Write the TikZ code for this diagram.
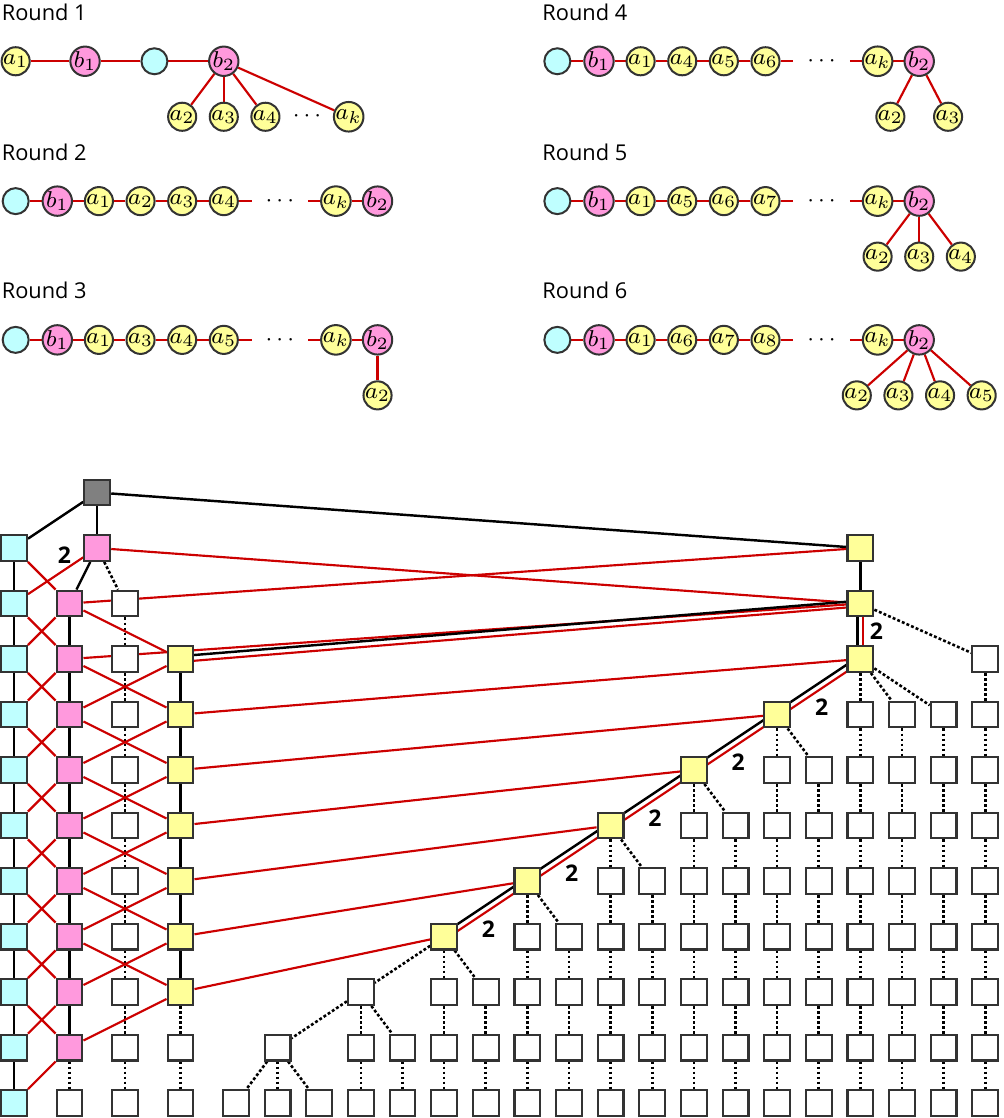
\documentclass[tikz,border=0pt]{standalone}
\usepackage{fontspec}
\setmainfont{Open Sans}
\usetikzlibrary{calc,backgrounds}

\definecolor{cyanfill}{RGB}{191,255,255}
\definecolor{pinkfill}{RGB}{255,153,221}
\definecolor{yelfill}{RGB}{255,255,153}
\definecolor{edgered}{RGB}{204,0,0}
\definecolor{rimgray}{RGB}{51,51,51}

% black edge and red edge side by side
\newcommand{\dbledge}[2]{%
  \draw[bl] ($(#1)!1pt!90:(#2)$) -- ($(#2)!1pt!-90:(#1)$);
  \draw[rl] ($(#1)!1pt!-90:(#2)$) -- ($(#2)!1pt!90:(#1)$);}

\begin{document}
\begin{tikzpicture}[x=0.68cm, y=0.68cm,
    vtx/.style={circle, draw=rimgray, line width=0.7pt, minimum size=9.06pt, inner sep=0pt,
                font=\fontsize{8}{9}\selectfont},
    av/.style={vtx, fill=yelfill},
    bv/.style={vtx, fill=pinkfill},
    cv/.style={vtx, fill=cyanfill},
    sq/.style={rectangle, draw=rimgray, line width=0.75pt, minimum size=9pt, inner sep=0pt, fill=white},
    csq/.style={sq, fill=cyanfill},
    psq/.style={sq, fill=pinkfill},
    ysq/.style={sq, fill=yelfill},
    gsq/.style={sq, fill=gray},
    rl/.style={draw=edgered, line width=0.75pt},
    bl/.style={draw=black, line width=0.85pt},
    dl/.style={draw=black, line width=0.9pt, dash pattern=on 1pt off 0.75pt},
    dts/.style={font=\fontsize{8.5}{9}\selectfont},
    ttl/.style={anchor=base west, inner sep=0pt, font=\fontsize{7.6}{8}\selectfont},
    mult/.style={inner sep=0pt, font=\fontsize{8}{9}\selectfont\bfseries}]
  \useasboundingbox (-0.2523,-10.27) rectangle (17.82,9.874);

  % ---- Round 1 ----
  \node[ttl] (t1) at (-0.23,9.51) {Round 1};
  \node[av] (A1a1) at (0.03,8.77) {$a_1$};
  \node[bv] (A1b1) at (1.28,8.77) {$b_1$};
  \node[cv] (A1c)  at (2.53,8.77) {};
  \node[bv] (A1b2) at (3.78,8.77) {$b_2$};
  \foreach \n/\x in {2/3.03, 3/3.78, 4/4.53, k/6.03}
    \node[av] (A1a\n) at (\x,7.77) {$a_\n$};
  \node[dts] (A1d) at (5.28,7.77) {$\cdots$};

  % ---- Round 2 ----
  \node[ttl] (t2) at (-0.23,6.99) {Round 2};
  \node[cv] (A2c)  at (0.03,6.25) {};
  \node[bv] (A2b1) at (0.78,6.25) {$b_1$};
  \foreach \n/\x in {1/1.53, 2/2.28, 3/3.03, 4/3.78, k/5.80}
    \node[av] (A2a\n) at (\x,6.25) {$a_\n$};
  \node[bv] (A2b2) at (6.55,6.25) {$b_2$};
  \coordinate (A2s) at (4.28,6.25);
  \node[dts] (A2d) at (4.79,6.25) {$\cdots$};
  \coordinate (A2e) at (5.30,6.25);

  % ---- Round 3 ----
  \node[ttl] (t3) at (-0.23,4.49) {Round 3};
  \node[cv] (A3c)  at (0.03,3.75) {};
  \node[bv] (A3b1) at (0.78,3.75) {$b_1$};
  \foreach \n/\x in {1/1.53, 3/2.28, 4/3.03, 5/3.78, k/5.80}
    \node[av] (A3a\n) at (\x,3.75) {$a_\n$};
  \node[bv] (A3b2) at (6.55,3.75) {$b_2$};
  \coordinate (A3s) at (4.28,3.75);
  \node[dts] (A3d) at (4.79,3.75) {$\cdots$};
  \coordinate (A3e) at (5.30,3.75);
  \node[av] (A3a2) at (6.55,2.75) {$a_2$};

  % ---- Round 4 ----
  \node[ttl] (t4) at (9.51,9.51) {Round 4};
  \node[cv] (A4c)  at (9.79,8.77) {};
  \node[bv] (A4b1) at (10.54,8.77) {$b_1$};
  \foreach \n/\x in {1/11.29, 4/12.04, 5/12.79, 6/13.54, k/15.56}
    \node[av] (A4a\n) at (\x,8.77) {$a_\n$};
  \node[bv] (A4b2) at (16.31,8.77) {$b_2$};
  \coordinate (A4s) at (14.04,8.77);
  \node[dts] (A4d) at (14.55,8.77) {$\cdots$};
  \coordinate (A4e) at (15.06,8.77);
  \foreach \n/\x in {2/15.79, 3/16.83}
    \node[av] (A4a\n) at (\x,7.77) {$a_\n$};

  % ---- Round 5 ----
  \node[ttl] (t5) at (9.51,6.99) {Round 5};
  \node[cv] (A5c)  at (9.79,6.25) {};
  \node[bv] (A5b1) at (10.54,6.25) {$b_1$};
  \foreach \n/\x in {1/11.29, 5/12.04, 6/12.79, 7/13.54, k/15.56}
    \node[av] (A5a\n) at (\x,6.25) {$a_\n$};
  \node[bv] (A5b2) at (16.31,6.25) {$b_2$};
  \coordinate (A5s) at (14.04,6.25);
  \node[dts] (A5d) at (14.55,6.25) {$\cdots$};
  \coordinate (A5e) at (15.06,6.25);
  \foreach \n/\x in {2/15.56, 3/16.31, 4/17.06}
    \node[av] (A5a\n) at (\x,5.25) {$a_\n$};

  % ---- Round 6 ----
  \node[ttl] (t6) at (9.51,4.49) {Round 6};
  \node[cv] (A6c)  at (9.79,3.75) {};
  \node[bv] (A6b1) at (10.54,3.75) {$b_1$};
  \foreach \n/\x in {1/11.29, 6/12.04, 7/12.79, 8/13.54, k/15.56}
    \node[av] (A6a\n) at (\x,3.75) {$a_\n$};
  \node[bv] (A6b2) at (16.31,3.75) {$b_2$};
  \coordinate (A6s) at (14.04,3.75);
  \node[dts] (A6d) at (14.55,3.75) {$\cdots$};
  \coordinate (A6e) at (15.06,3.75);
  \foreach \n/\x in {2/15.185, 3/15.935, 4/16.685, 5/17.435}
    \node[av] (A6a\n) at (\x,2.75) {$a_\n$};

  % ---- grid: left columns ----
  \node[gsq] (g) at (1.5,1) {};
  \node[psq] (p0) at (1.5,0) {};
  \foreach \i in {0,...,10}
    \node[csq] (c\i) at (0,-\i) {};
  \foreach \i in {1,...,9}
    \node[psq] (p\i) at (1,-\i) {};
  \node[sq] (p10) at (1,-10) {};
  \foreach \i in {1,...,10}
    \node[sq] (w\i) at (2,-\i) {};
  \foreach \i in {2,...,8}
    \node[ysq] (l\i) at (3,-\i) {};
  \foreach \i in {9,10}
    \node[sq] (l\i) at (3,-\i) {};

  % ---- grid: right part ----
  \node[ysq] (y0) at (15.25,0) {};
  \node[ysq] (y1) at (15.25,-1) {};
  \foreach \k in {2,...,7}
    \node[ysq] (y\k) at ({18.25-1.5*\k},-\k) {};
  \foreach \j/\s in {18/2, 15/3, 16/3, 17/3, 13/4, 14/4, 11/5, 12/5, 9/6, 10/6,
                     7/7, 8/7, 5/8, 6/8, 3/8, 4/9, 1/9, 0/10, 2/10}
    \foreach \i in {\s,...,10}
      \node[sq] (r\j-\i) at ({4+0.75*\j},-\i) {};

  % ---- multiplicities ----
  \node[mult] (m0) at (0.91,-0.13) {2};
  \node[mult] (m1) at (15.54,-1.49) {2};
  \foreach \k in {2,...,6}
    \node[mult] (m\k) at ({17.55-1.5*\k},{-\k-0.865}) {2};

  \begin{scope}[on background layer]
    % rounds
    \foreach \u/\v in {a1/b1, b1/c, c/b2, b2/a2, b2/a3, b2/a4, b2/ak}
      \draw[rl] (A1\u) -- (A1\v);
    \foreach \u/\v in {c/b1, b1/a1, a1/a2, a2/a3, a3/a4, a4/s, e/ak, ak/b2}
      \draw[rl] (A2\u) -- (A2\v);
    \foreach \u/\v in {c/b1, b1/a1, a1/a3, a3/a4, a4/a5, a5/s, e/ak, ak/b2, b2/a2}
      \draw[rl] (A3\u) -- (A3\v);
    \foreach \u/\v in {c/b1, b1/a1, a1/a4, a4/a5, a5/a6, a6/s, e/ak, ak/b2, b2/a2, b2/a3}
      \draw[rl] (A4\u) -- (A4\v);
    \foreach \u/\v in {c/b1, b1/a1, a1/a5, a5/a6, a6/a7, a7/s, e/ak, ak/b2, b2/a2, b2/a3, b2/a4}
      \draw[rl] (A5\u) -- (A5\v);
    \foreach \u/\v in {c/b1, b1/a1, a1/a6, a6/a7, a7/a8, a8/s, e/ak, ak/b2, b2/a2, b2/a3, b2/a4, b2/a5}
      \draw[rl] (A6\u) -- (A6\v);

    % tree edges, left
    \draw[bl] (g) -- (c0);
    \draw[bl] (g) -- (p0);
    \draw[bl] (g) -- (y0);
    \draw[bl] (p0) -- (p1);
    \draw[dl] (p0) -- (w1);
    \foreach \i [evaluate=\i as \n using int(\i+1)] in {0,...,9}
      \draw[bl] (c\i) -- (c\n);
    \foreach \i [evaluate=\i as \n using int(\i+1)] in {1,...,8}
      \draw[bl] (p\i) -- (p\n);
    \draw[dl] (p9) -- (p10);
    \foreach \i [evaluate=\i as \n using int(\i+1)] in {1,...,9}
      \draw[dl] (w\i) -- (w\n);
    \foreach \i [evaluate=\i as \n using int(\i+1)] in {2,...,7}
      \draw[bl] (l\i) -- (l\n);
    \draw[dl] (l8) -- (l9);
    \draw[dl] (l9) -- (l10);

    % red crossings, left
    \foreach \i [evaluate=\i as \n using int(\i+1)] in {0,...,9}
      \draw[rl] (p\i) -- (c\n);
    \foreach \i [evaluate=\i as \n using int(\i+1)] in {0,...,8}
      \draw[rl] (c\i) -- (p\n);
    \foreach \i [evaluate=\i as \n using int(\i+1)] in {1,...,7}
      \draw[rl] (p\i) -- (l\n);
    \foreach \i [evaluate=\i as \n using int(\i+1)] in {2,...,8}
      \draw[rl] (l\i) -- (p\n);

    % long red edges
    \draw[rl] (p0) -- (y1);
    \draw[rl] (p1) -- (y0);
    \draw[rl] (p2) -- (y1);
    \foreach \i [evaluate=\i as \n using int(\i-1)] in {3,...,8}
      \draw[rl] (l\i) -- (y\n);

    % tree edges, right
    \draw[bl] (y0) -- (y1);
    \dbledge{l2}{y1}
    \dbledge{y2}{y1}
    \foreach \k [evaluate=\k as \n using int(\k+1)] in {2,...,6}
      {\dbledge{y\n}{y\k}}
    \foreach \j/\s/\upn in {18/2/y1, 15/3/y2, 16/3/y2, 17/3/y2, 13/4/y3, 14/4/y3,
                            11/5/y4, 12/5/y4, 9/6/y5, 10/6/y5, 7/7/y6, 8/7/y6,
                            5/8/y7, 6/8/y7, 3/8/y7, 4/9/r3-8, 1/9/r3-8,
                            0/10/r1-9, 2/10/r1-9}{
      \draw[dl] (\upn) -- (r\j-\s);
      \foreach \i in {\s,...,10}{
        \ifnum\i>\s\relax
          \pgfmathtruncatemacro\prv{\i-1}
          \draw[dl] (r\j-\prv) -- (r\j-\i);
        \fi
      }
    }
  \end{scope}
\end{tikzpicture}
\end{document}
